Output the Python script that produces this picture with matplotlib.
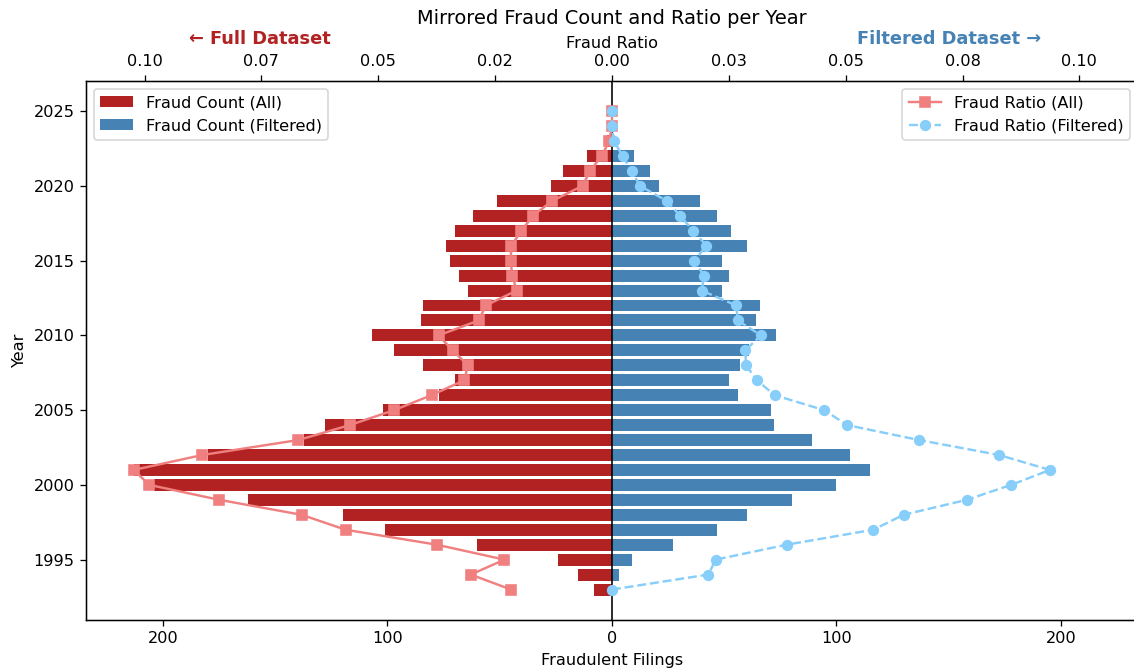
import numpy as np
import matplotlib
matplotlib.use("Agg")
import matplotlib.pyplot as plt

# Data
years = list(range(1993, 2026))
count_all = [8, 15, 24, 60, 101, 120, 162, 204, 213, 180, 137, 128, 102, 77, 70,
             84, 97, 107, 85, 84, 64, 68, 72, 74, 70, 62, 51, 27, 22, 11, 2, 0, 0]
count_filtered = [0, 3, 9, 27, 47, 60, 80, 100, 115, 106, 89, 72, 71, 56, 52,
                  57, 61, 73, 64, 66, 49, 52, 49, 60, 53, 47, 39, 21, 17, 10, 0, 0, 0]
ratio_all = [0.0216, 0.0302, 0.0230, 0.0375, 0.0570, 0.0664, 0.0840, 0.0990, 0.1023,
             0.0876, 0.0671, 0.0561, 0.0466, 0.0386, 0.0316, 0.0308, 0.0341, 0.0371,
             0.0285, 0.0270, 0.0204, 0.0213, 0.0217, 0.0215, 0.0194, 0.0169, 0.0128,
             0.0063, 0.0047, 0.0022, 0.0006, 0.0, 0.0]
ratio_filtered = [0.0, 0.0206, 0.0222, 0.0374, 0.0559, 0.0624, 0.0759, 0.0854, 0.0937,
                  0.0828, 0.0657, 0.0503, 0.0454, 0.0348, 0.0310, 0.0287, 0.0285, 0.0319,
                  0.0269, 0.0266, 0.0192, 0.0197, 0.0176, 0.0202, 0.0174, 0.0146, 0.0117,
                  0.0060, 0.0042, 0.0023, 0.0004, 0.0, 0.0]
top_tick_labels = ['0.10', '0.07', '0.05', '0.02', '0.00', '0.03', '0.05', '0.08', '0.10']

years = np.array(years)
count_all = np.array(count_all)
count_filtered = np.array(count_filtered)
ratio_all = np.array(ratio_all)
ratio_filtered = np.array(ratio_filtered)

fig, ax = plt.subplots(figsize=(1134 / 116, 670 / 116), dpi=116)
# the original is clipped at the right edge, so the axes run slightly past it
fig.subplots_adjust(left=0.0758, right=1.0035, top=0.8796, bottom=0.0746)

# mirrored bars
ax.barh(years, -count_all, height=0.8, color='firebrick', label='Fraud Count (All)')
ax.barh(years, count_filtered, height=0.8, color='steelblue', label='Fraud Count (Filtered)')
ax.axvline(0, color='black', linewidth=1)

max_count = max(count_all.max(), count_filtered.max())
ax.set_xlim(-max_count * 1.1, max_count * 1.1)
ax.set_xticks([-200, -100, 0, 100, 200])
ax.set_xticklabels([str(abs(t)) for t in [-200, -100, 0, 100, 200]])
ax.set_xlabel('Fraudulent Filings')
ax.set_ylabel('Year')
ax.legend(loc='upper left')

# ratio lines on the top axis
ax2 = ax.twiny()
ax2.plot(-ratio_all, years, color='lightcoral', marker='s', markersize=6,
         linewidth=1.5, label='Fraud Ratio (All)')
ax2.plot(ratio_filtered, years, color='lightskyblue', marker='o', markersize=6,
         linewidth=1.5, linestyle='--', label='Fraud Ratio (Filtered)')
max_ratio = max(ratio_all.max(), ratio_filtered.max())
ax2.set_xlim(-max_ratio * 1.1, max_ratio * 1.1)
ax2.set_xticks([-0.1, -0.075, -0.05, -0.025, 0, 0.025, 0.05, 0.075, 0.1])
ax2.set_xticklabels(top_tick_labels)
ax2.set_xlabel('Fraud Ratio')
ax2.legend(loc='upper right')

ax.text(0.165, 1.078, '\u2190 Full Dataset', transform=ax.transAxes, ha='center',
        va='center', color='firebrick', fontsize=11, fontweight='bold')
ax.text(0.82, 1.078, 'Filtered Dataset \u2192', transform=ax.transAxes, ha='center',
        va='center', color='steelblue', fontsize=11, fontweight='bold')

ax.set_title('Mirrored Fraud Count and Ratio per Year', fontsize=12, pad=35)

fig.savefig('out.png', dpi=116)
